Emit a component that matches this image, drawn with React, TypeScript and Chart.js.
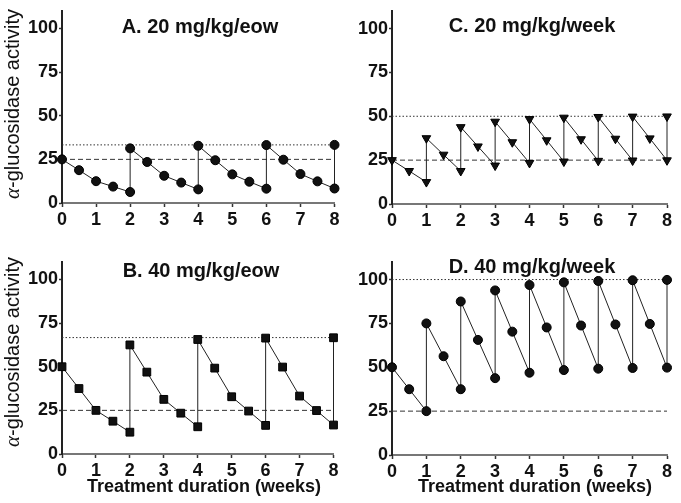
import React, { useEffect, useRef } from 'react';
import { Chart, registerables } from 'chart.js';
Chart.register(...registerables);

// ---- data ----
const EOW_WEEKS = [0, 0.5, 1, 1.5, 2, 2, 2.5, 3, 3.5, 4, 4, 4.5, 5, 5.5, 6, 6, 6.5, 7, 7.5, 8, 8];
const WEEKLY_WEEKS = [0, 0.5, 1, 1, 1.5, 2, 2, 2.5, 3, 3, 3.5, 4, 4, 4.5, 5, 5, 5.5, 6, 6, 6.5, 7, 7, 7.5, 8, 8];

const A_20_EOW = [25, 18.8, 12.5, 9.4, 6.3, 31.3, 23.5, 15.6, 11.7, 7.8, 32.8, 24.5, 16.4, 12.2, 8.2, 33.2, 24.8, 16.6, 12.4, 8.3, 33.3];
const B_40_EOW = [50, 37.5, 25, 18.8, 12.5, 62.5, 46.9, 31.3, 23.4, 15.6, 65.6, 49.2, 32.8, 24.6, 16.4, 66.4, 49.8, 33.2, 24.9, 16.6, 66.6];
const C_20_WEEK = [25, 18.8, 12.5, 37.5, 28.1, 18.8, 43.8, 32.8, 21.9, 46.9, 35.2, 23.4, 48.4, 36.3, 24.2, 49.2, 36.9, 24.6, 49.6, 37.2, 24.8, 49.8, 37.4, 24.9, 49.9];
const D_40_WEEK = [50, 37.5, 25, 75, 56.3, 37.5, 87.5, 65.6, 43.8, 93.8, 70.3, 46.9, 96.9, 72.7, 48.4, 98.4, 73.8, 49.2, 99.2, 74.4, 49.6, 99.6, 74.7, 49.8, 99.8];

const PEAK_LEVELS = [33.3, 66.7, 50, 100]; // A, B, C, D dotted lines
const TARGET_LEVEL = 25; // dashed line
const Y_TICKS = [0, 25, 50, 75, 100];
const X_TICKS = [0, 1, 2, 3, 4, 5, 6, 7, 8];
const TITLES = ['A. 20 mg/kg/eow', 'B. 40 mg/kg/eow', 'C. 20 mg/kg/week', 'D. 40 mg/kg/week'];
const Y_TITLE_ALPHA = 'α';
const Y_TITLE_REST = '-glucosidase activity';
const X_TITLE = 'Treatment duration (weeks)';

const SANS = "'Liberation Sans', Arial, Helvetica, sans-serif";

const textPlugin = {
  id: 'panelTexts',
  afterDraw(chart: any, _args: any, opts: any) {
    const ctx = chart.ctx;
    const items = (opts && opts.items) || [];
    items.forEach((it: any) => {
      ctx.save();
      ctx.fillStyle = '#111';
      if (it.kind === 'ytitle') {
        ctx.translate(it.x, it.y);
        ctx.rotate(-Math.PI / 2);
        const fa = `italic 21px 'Liberation Serif', 'Times New Roman', serif`;
        const fr = `20px ${SANS}`;
        ctx.font = fa;
        const wa = ctx.measureText(Y_TITLE_ALPHA).width;
        ctx.font = fr;
        const wr = ctx.measureText(Y_TITLE_REST).width;
        const start = -(wa + wr) / 2;
        ctx.textBaseline = 'middle';
        ctx.textAlign = 'left';
        ctx.font = fa;
        ctx.fillText(Y_TITLE_ALPHA, start, 0);
        ctx.font = fr;
        ctx.fillText(Y_TITLE_REST, start + wa, 0);
      } else {
        ctx.font = it.font;
        ctx.textAlign = 'center';
        ctx.textBaseline = it.baseline || 'alphabetic';
        ctx.fillText(it.text, it.x, it.y);
      }
      ctx.restore();
    });
  },
};

type PanelProps = {
  left: number; top: number; width: number; height: number;
  xs: number[]; ys: number[]; peak: number;
  pointStyle: string; radius: number; rotation: number;
  title: string; titleX: number; titleY: number;
  yAxisW: number; topPad: number; rightPad: number; xAxisH: number;
  yTitle?: { x: number; y: number };
  xTitle?: { x: number; y: number };
};

function Panel(p: PanelProps) {
  const ref = useRef<HTMLCanvasElement | null>(null);
  useEffect(() => {
    if (!ref.current) return;
    const pts = p.xs.map((x, i) => ({ x, y: p.ys[i] }));
    const items: any[] = [
      { text: p.title, x: p.titleX, y: p.titleY, font: `bold 20px ${SANS}` },
    ];
    if (p.yTitle) items.push({ kind: 'ytitle', x: p.yTitle.x, y: p.yTitle.y });
    if (p.xTitle) items.push({ text: X_TITLE, x: p.xTitle.x, y: p.xTitle.y, font: `bold 18px ${SANS}`, baseline: 'middle' });

    const tickFont = { family: SANS, size: 18, weight: 'bold' as const };
    const chart = new Chart(ref.current, {
      type: 'scatter',
      data: {
        datasets: [
          {
            data: pts,
            showLine: true,
            borderColor: '#222',
            borderWidth: 1,
            pointStyle: p.pointStyle as any,
            pointRadius: p.radius,
            pointRotation: p.rotation,
            pointBackgroundColor: '#111',
            pointBorderColor: '#000',
            pointBorderWidth: 1,
            clip: false as any,
          },
          {
            data: [{ x: 0, y: p.peak }, { x: 8, y: p.peak }],
            showLine: true,
            borderColor: '#333',
            borderWidth: 1,
            borderDash: [1.5, 2],
            pointRadius: 0,
          },
          {
            data: [{ x: 0, y: TARGET_LEVEL }, { x: 8, y: TARGET_LEVEL }],
            showLine: true,
            borderColor: '#333',
            borderWidth: 1,
            borderDash: [5, 3],
            pointRadius: 0,
          },
        ],
      },
      options: {
        animation: false,
        responsive: false,
        devicePixelRatio: 1,
        layout: { padding: { left: 0, top: p.topPad, right: p.rightPad, bottom: 0 } },
        plugins: {
          legend: { display: false },
          tooltip: { enabled: false },
          panelTexts: { items },
        } as any,
        scales: {
          x: {
            type: 'linear',
            min: 0,
            max: 8,
            afterBuildTicks: (s: any) => { s.ticks = X_TICKS.map((v) => ({ value: v })); },
            afterFit: (s: any) => { s.height = p.xAxisH; s.paddingLeft = 0; s.paddingRight = 0; },
            ticks: { font: tickFont, color: '#111', padding: 2, maxRotation: 0 },
            grid: { display: true, drawOnChartArea: false, drawTicks: true, tickLength: 4, tickColor: '#333', tickWidth: 1.5 },
            border: { display: true, color: '#777', width: 2 },
          },
          y: {
            type: 'linear',
            min: 0,
            max: 110,
            afterBuildTicks: (s: any) => { s.ticks = Y_TICKS.map((v) => ({ value: v })); },
            afterFit: (s: any) => { s.width = p.yAxisW; s.paddingTop = 0; s.paddingBottom = 0; },
            ticks: { font: tickFont, color: '#111', padding: 1 },
            grid: { display: true, drawOnChartArea: false, drawTicks: true, tickLength: 3, tickColor: '#333', tickWidth: 1.5 },
            border: { display: true, color: '#222', width: 2 },
          },
        },
      },
      plugins: [textPlugin],
    });
    return () => chart.destroy();
  }, []);
  return (
    <canvas
      ref={ref}
      width={p.width}
      height={p.height}
      style={{ position: 'absolute', left: p.left, top: p.top, width: p.width, height: p.height }}
    />
  );
}

export default function App() {
  return (
    <div style={{ position: 'absolute', left: 0, top: 0, width: 681, height: 503, background: '#fff' }}>
      <Panel left={0} top={0} width={340} height={250} xs={EOW_WEEKS} ys={A_20_EOW} peak={PEAK_LEVELS[0]}
        pointStyle="circle" radius={4.5} rotation={0} title={TITLES[0]} titleX={200} titleY={33}
        yAxisW={62} topPad={11} rightPad={4} xAxisH={47} yTitle={{ x: 13, y: 104 }} />
      <Panel left={340} top={0} width={341} height={250} xs={WEEKLY_WEEKS} ys={C_20_WEEK} peak={PEAK_LEVELS[2]}
        pointStyle="triangle" radius={5} rotation={180} title={TITLES[2]} titleX={192} titleY={32}
        yAxisW={52} topPad={11} rightPad={14} xAxisH={46} />
      <Panel left={0} top={250} width={340} height={253} xs={EOW_WEEKS} ys={B_40_EOW} peak={PEAK_LEVELS[1]}
        pointStyle="rect" radius={5.5} rotation={0} title={TITLES[1]} titleX={201} titleY={26.5}
        yAxisW={62} topPad={12} rightPad={4} xAxisH={49} yTitle={{ x: 13, y: 102 }} xTitle={{ x: 204, y: 237 }} />
      <Panel left={340} top={250} width={341} height={253} xs={WEEKLY_WEEKS} ys={D_40_WEEK} peak={PEAK_LEVELS[3]}
        pointStyle="circle" radius={4.5} rotation={0} title={TITLES[3]} titleX={192} titleY={23}
        yAxisW={52} topPad={12} rightPad={14} xAxisH={48} xTitle={{ x: 195, y: 237 }} />
    </div>
  );
}
